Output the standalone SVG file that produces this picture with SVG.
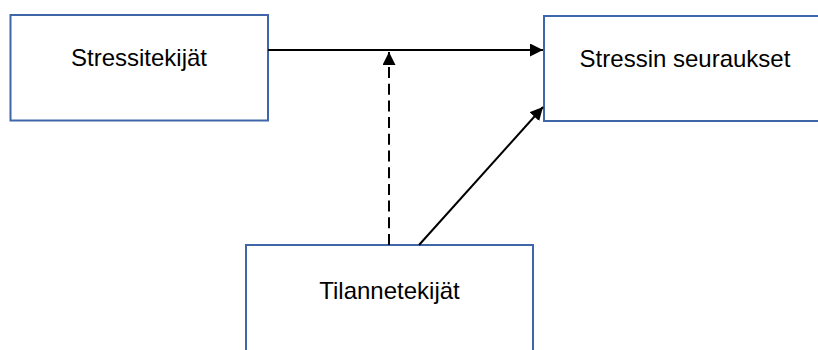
<svg xmlns="http://www.w3.org/2000/svg" width="818" height="350" viewBox="0 0 818 350">
<style>
.box{fill:#fff;stroke:#3E66A8;stroke-width:2}
.lbl{font-family:"Liberation Sans",Arial,sans-serif;font-size:24px;fill:#000;text-anchor:middle}
.ln{stroke:#000;stroke-width:2;fill:none}
</style>
<defs>
<marker id="ah" viewBox="0 0 10 10" refX="10" refY="5" markerWidth="6.5" markerHeight="6.5" markerUnits="strokeWidth" orient="auto">
<path d="M0,0 L10,5 L0,10 z" fill="#000"/>
</marker>
</defs>
<rect width="818" height="350" fill="#fff"/>
<g id="n1">
<rect class="box" x="10.5" y="15" width="257.5" height="105.5"/>
<text class="lbl" x="139" y="66">Stressitekijät</text>
</g>
<g id="n2">
<rect class="box" x="544" y="16" width="290" height="105"/>
<text class="lbl" x="685" y="67">Stressin seuraukset</text>
</g>
<g id="n3">
<rect class="box" x="246" y="245" width="287" height="120"/>
<text class="lbl" x="389.5" y="299">Tilannetekijät</text>
</g>
<g id="connectors">
<line class="ln" x1="268" y1="50" x2="543" y2="50" marker-end="url(#ah)"/>
<line class="ln" x1="389" y1="245" x2="389" y2="52" stroke-dasharray="11,5.7" marker-end="url(#ah)"/>
<line class="ln" x1="419" y1="245" x2="543" y2="107" marker-end="url(#ah)"/>
</g>
</svg>
